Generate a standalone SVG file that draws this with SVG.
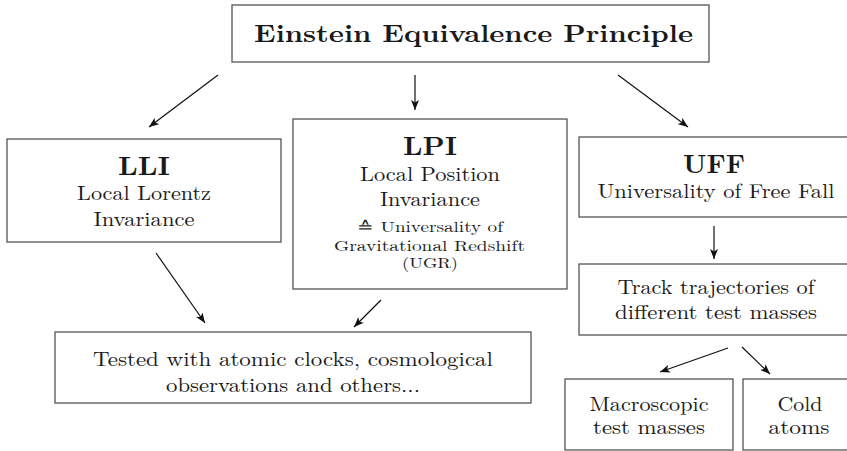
<svg xmlns="http://www.w3.org/2000/svg" width="847" height="451" viewBox="0 0 847 451">
<style>
.box{fill:#fff;stroke:#555;stroke-width:1.3}
text{font-family:"Latin Modern Roman","CMU Serif","Liberation Serif",serif;fill:#1a1a1a;text-anchor:middle}
.t{font-size:25px;font-weight:bold}
.h{font-size:26px;font-weight:bold}
.n{font-size:20px}
.s{font-size:14.5px}
.c line{stroke:#111;stroke-width:1.2;marker-end:url(#ah)}
</style>
<defs>
<marker id="ah" viewBox="0 0 10 8" refX="10" refY="4" markerWidth="10" markerHeight="8" markerUnits="userSpaceOnUse" orient="auto">
<path d="M0,0 L10,4 L0,8 L2.5,4 z" fill="#111"/>
</marker>
</defs>
<rect width="847" height="451" fill="#fff"/>
<g id="eep">
<rect class="box" x="232" y="5" width="477" height="57"/>
<text class="t" x="473.5" y="42" textLength="439" lengthAdjust="spacingAndGlyphs">Einstein Equivalence Principle</text>
</g>
<g id="lli">
<rect class="box" x="7" y="139" width="274" height="103"/>
<text class="h" x="144" y="175" textLength="52" lengthAdjust="spacingAndGlyphs">LLI</text>
<text class="n" x="144" y="200" textLength="134" lengthAdjust="spacingAndGlyphs">Local Lorentz</text>
<text class="n" x="144" y="226" textLength="101" lengthAdjust="spacingAndGlyphs">Invariance</text>
</g>
<g id="lpi">
<rect class="box" x="293" y="119" width="274" height="170"/>
<text class="h" x="430" y="155" textLength="54" lengthAdjust="spacingAndGlyphs">LPI</text>
<text class="n" x="430" y="181" textLength="140" lengthAdjust="spacingAndGlyphs">Local Position</text>
<text class="n" x="430" y="206" textLength="100" lengthAdjust="spacingAndGlyphs">Invariance</text>
<text class="s" x="430" y="232" textLength="146" lengthAdjust="spacingAndGlyphs">≙ Universality of</text>
<text class="s" x="429.5" y="251" textLength="191" lengthAdjust="spacingAndGlyphs">Gravitational Redshift</text>
<text class="s" x="430" y="268" textLength="56" lengthAdjust="spacingAndGlyphs">(UGR)</text>
</g>
<g id="uff">
<rect class="box" x="579" y="137" width="276" height="80"/>
<text class="h" x="714" y="173" textLength="62" lengthAdjust="spacingAndGlyphs">UFF</text>
<text class="n" x="716" y="198" textLength="237" lengthAdjust="spacingAndGlyphs">Universality of Free Fall</text>
</g>
<g id="track">
<rect class="box" x="579" y="264" width="276" height="71"/>
<text class="n" x="716" y="294" textLength="197" lengthAdjust="spacingAndGlyphs">Track trajectories of</text>
<text class="n" x="716" y="319" textLength="202" lengthAdjust="spacingAndGlyphs">different test masses</text>
</g>
<g id="tested">
<rect class="box" x="55" y="332" width="476" height="71"/>
<text class="n" x="293" y="366" textLength="400" lengthAdjust="spacingAndGlyphs">Tested with atomic clocks, cosmological</text>
<text class="n" x="293" y="392" textLength="254" lengthAdjust="spacingAndGlyphs">observations and others...</text>
</g>
<g id="macro">
<rect class="box" x="565" y="379" width="168" height="71"/>
<text class="n" x="649" y="411" textLength="119" lengthAdjust="spacingAndGlyphs">Macroscopic</text>
<text class="n" x="649" y="434" textLength="112" lengthAdjust="spacingAndGlyphs">test masses</text>
</g>
<g id="cold">
<rect class="box" x="743" y="379" width="115" height="71"/>
<text class="n" x="800" y="411" textLength="45" lengthAdjust="spacingAndGlyphs">Cold</text>
<text class="n" x="799" y="434" textLength="61" lengthAdjust="spacingAndGlyphs">atoms</text>
</g>
<g id="connectors" class="c">
<line x1="218" y1="75" x2="149" y2="127"/>
<line x1="415" y1="75" x2="415" y2="110"/>
<line x1="618" y1="75" x2="688" y2="127"/>
<line x1="156" y1="253" x2="205" y2="323"/>
<line x1="381" y1="300" x2="354" y2="327"/>
<line x1="714" y1="226" x2="714" y2="259"/>
<line x1="728" y1="348" x2="660" y2="372"/>
<line x1="742" y1="347" x2="770" y2="374"/>
</g>
</svg>
